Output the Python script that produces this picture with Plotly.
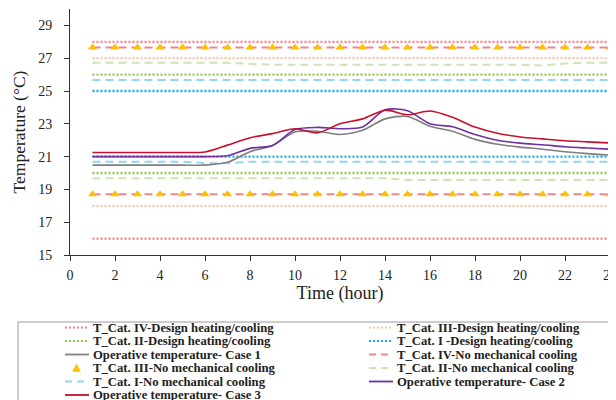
import plotly.graph_objects as go

hours = list(range(1, 25))

# Operative temperatures (°C)
case1 = [20.48, 20.48, 20.48, 20.48, 20.48, 20.48, 20.65, 21.3, 21.68, 22.5, 22.55, 22.35,
         22.6, 23.3, 23.45, 22.85, 22.55, 22.05, 21.75, 21.58, 21.45, 21.3, 21.18, 21.09]
case2 = [21.0, 21.0, 21.0, 21.0, 21.0, 21.0, 21.05, 21.5, 21.68, 22.65, 22.78, 22.7,
         22.8, 23.85, 23.8, 23.0, 22.82, 22.35, 22.0, 21.82, 21.72, 21.6, 21.52, 21.45]
case3 = [21.25, 21.25, 21.25, 21.25, 21.25, 21.28, 21.7, 22.15, 22.4, 22.7, 22.45, 23.0,
         23.3, 23.83, 23.55, 23.78, 23.4, 22.8, 22.42, 22.2, 22.08, 21.97, 21.9, 21.83]

# Design heating/cooling limits
cat4_design_up = [28.0] * 24
cat4_design_lo = [16.0] * 24
cat3_design_up = [27.0] * 24
cat3_design_lo = [18.0] * 24
cat2_design_up = [26.0] * 24
cat2_design_lo = [20.0] * 24
cat1_design_up = [25.0] * 24
cat1_design_lo = [21.0] * 24

# No mechanical cooling limits
cat4_nomech_up = [27.65] * 24
cat4_nomech_lo = [18.7] * 24
cat3_nomech_up = [27.65] * 24
cat3_nomech_lo = [18.7] * 24
cat2_nomech_up = [26.72] * 7 + [26.66] + [26.6] * 12 + [26.55, 26.68, 26.72, 26.72]
cat2_nomech_lo = [19.68] * 14 + [19.58] * 10
cat1_nomech_up = [25.67] * 24
cat1_nomech_lo = [20.69] * 5 + [20.6, 20.6] + [20.69] * 17

x_ticks = list(range(0, 25, 2))
y_ticks = list(range(15, 30, 2))

FONT = "Liberation Serif, Times New Roman, serif"

def pair(up, lo):
    return hours + [None] + hours, up + [None] + lo

series = [
    ("T_Cat. IV-Design heating/cooling", cat4_design_up, cat4_design_lo, "#FF7F86", "2px,2px", 2.3),
    ("T_Cat. III-Design heating/cooling", cat3_design_up, cat3_design_lo, "#F9C3A3", "2px,2px", 2.3),
    ("T_Cat. II-Design heating/cooling", cat2_design_up, cat2_design_lo, "#8DCB4A", "2px,2px", 2.3),
    ("T_Cat. I -Design heating/cooling", cat1_design_up, cat1_design_lo, "#12A9EC", "2px,2px", 2.3),
    ("T_Cat. IV-No mechanical cooling", cat4_nomech_up, cat4_nomech_lo, "#E88A8C", "8px,5px", 2),
    ("T_Cat. II-No mechanical cooling", cat2_nomech_up, cat2_nomech_lo, "#CBE5B3", "8px,5px", 2),
    ("T_Cat. I-No mechanical cooling", cat1_nomech_up, cat1_nomech_lo, "#93D5F3", "8px,5px", 2),
]

fig = go.Figure()
for name, up, lo, color, dash, w in series:
    xs, ys = pair(up, lo)
    fig.add_trace(go.Scatter(x=xs, y=ys, mode="lines", name=name, showlegend=False,
                             line=dict(color=color, dash=dash, width=w)))

xs, ys = pair(cat3_nomech_up, cat3_nomech_lo)
fig.add_trace(go.Scatter(x=xs, y=ys, mode="markers", name="T_Cat. III-No mechanical cooling",
                         showlegend=False,
                         marker=dict(symbol="triangle-up", size=8, color="#FFC000")))

ops = [("Operative temperature- Case 1", case1, "#7F7F7F"),
       ("Operative temperature- Case 2", case2, "#7030A0"),
       ("Operative temperature- Case 3", case3, "#C8102E")]
for name, ys_, color in ops:
    fig.add_trace(go.Scatter(x=hours, y=ys_, mode="lines", name=name, showlegend=False,
                             line=dict(color=color, width=1.6, shape="spline", smoothing=0.8)))

# ---- layout geometry (page has an 8px body margin) ----
OFF = 8
W, H = 616 - OFF, 400 - OFF
L, T, B, R = 70 - OFF, 9 - OFF, 255 - OFF, 610 - OFF

def px(xp):  # reference pixel -> paper x
    return (xp - OFF - L) / (R - L)
def py(yp):  # reference pixel -> paper y
    return (B - (yp - OFF)) / (B - T)

legend_items = [
    ("T_Cat. IV-Design heating/cooling", "#FF7F86", "dot", "line"),
    ("T_Cat. III-Design heating/cooling", "#F9C3A3", "dot", "line"),
    ("T_Cat. II-Design heating/cooling", "#8DCB4A", "dot", "line"),
    ("T_Cat. I -Design heating/cooling", "#12A9EC", "dot", "line"),
    ("Operative temperature- Case 1", "#7F7F7F", "solid", "line"),
    ("T_Cat. IV-No mechanical cooling", "#E88A8C", "dash", "line"),
    ("T_Cat. III-No mechanical cooling", "#FFC000", "solid", "tri"),
    ("T_Cat. II-No mechanical cooling", "#CBE5B3", "dash", "line"),
    ("T_Cat. I-No mechanical cooling", "#93D5F3", "dash", "line"),
    ("Operative temperature- Case 2", "#7030A0", "solid", "line"),
    ("Operative temperature- Case 3", "#C8102E", "solid", "line"),
]
row_y = [327.5, 341, 354.5, 368, 381.5, 395]
col_sym = [(65, 88), (369, 392)]
col_text = [91, 395]

shapes = [dict(type="rect", xref="paper", yref="paper",
               x0=px(18), x1=px(640), y0=py(322), y1=py(430),
               line=dict(color="#9A9A9A", width=1), fillcolor="rgba(0,0,0,0)", layer="below")]
annotations = []
for i, (name, color, dash, kind) in enumerate(legend_items):
    r, c = divmod(i, 2)
    yc = row_y[r]
    x0, x1 = col_sym[c]
    if kind == "line":
        dd = {"dot": "2px,2px", "dash": "7px,5px", "solid": "solid"}[dash]
        wid = 2 if dash != "solid" else 1.8
        shapes.append(dict(type="line", xref="paper", yref="paper",
                           x0=px(x0), x1=px(x1 + 1), y0=py(yc), y1=py(yc),
                           line=dict(color=color, width=wid, dash=dd)))
    else:
        cx = (x0 + x1) / 2
        path = "M {} {} L {} {} L {} {} Z".format(px(cx - 4), py(yc + 3.5), px(cx + 4), py(yc + 3.5),
                                                   px(cx), py(yc - 4))
        shapes.append(dict(type="path", xref="paper", yref="paper", path=path,
                           fillcolor=color, line=dict(color=color, width=0.5)))
    annotations.append(dict(text="<b>" + name + "</b>", xref="paper", yref="paper",
                            x=px(col_text[c]), y=py(yc), xanchor="left", yanchor="middle",
                            showarrow=False, font=dict(family=FONT, size=12.7, color="#222")))

fig.update_layout(
    width=W, height=H,
    margin=dict(l=L, r=W - R, t=T, b=H - B, autoexpand=False),
    paper_bgcolor="white", plot_bgcolor="white",
    font=dict(family=FONT, color="#222"),
    showlegend=False,
    shapes=shapes,
    annotations=annotations,
    xaxis=dict(range=[0, 24], tickvals=x_ticks, ticktext=[str(v) for v in x_ticks],
               showgrid=False, zeroline=False, showline=True, linecolor="#333", linewidth=1,
               ticks="outside", ticklen=5, tickcolor="#333", tickfont=dict(size=14, family=FONT),
               ticklabelstandoff=2, ticklabeloverflow="allow",
               title=dict(text="Time (hour)", font=dict(size=18, family=FONT), standoff=2)),
    yaxis=dict(range=[15, 30], tickvals=y_ticks, ticktext=[str(v) for v in y_ticks],
               showgrid=False, zeroline=False, showline=True, linecolor="#333", linewidth=1,
               ticks="outside", ticklen=5, tickcolor="#333", tickfont=dict(size=14, family=FONT),
               ticklabelstandoff=9,
               title=dict(text="Temperature (°C)", font=dict(size=17.5, family=FONT), standoff=8)),
)

fig.write_html("out.html")
